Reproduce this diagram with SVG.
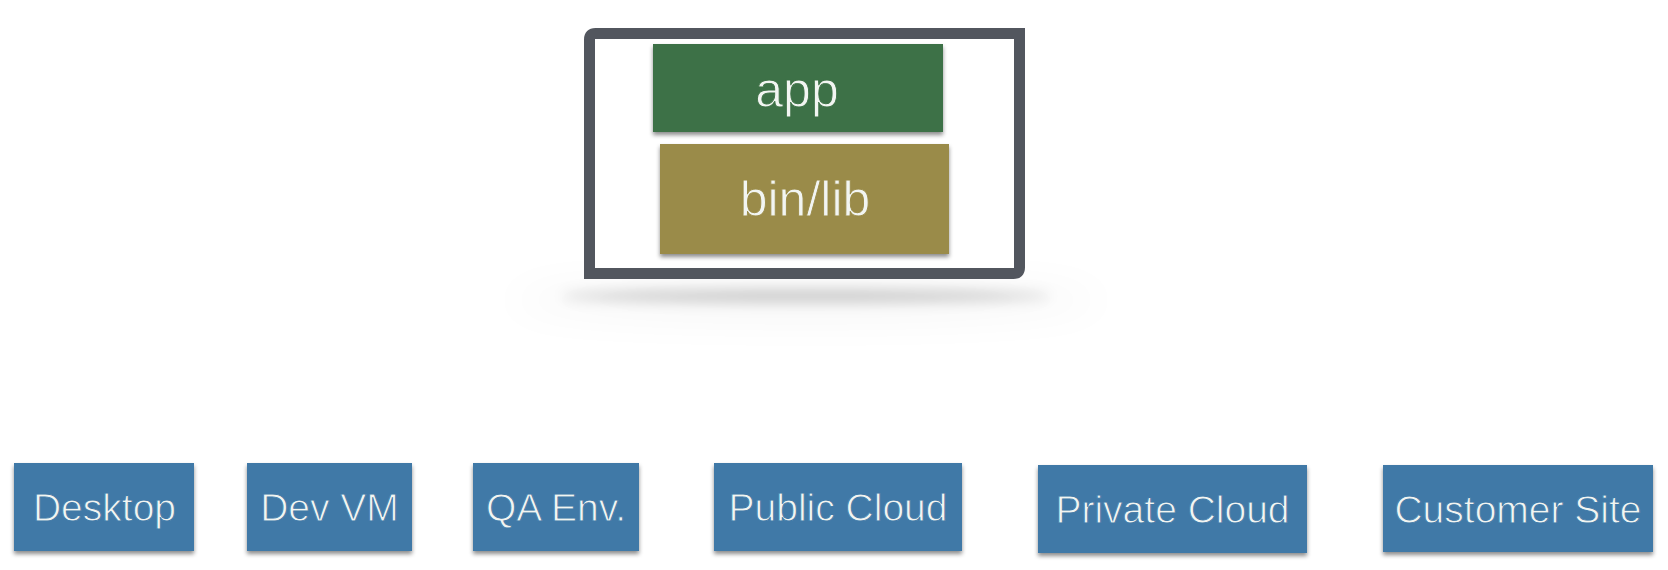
<svg xmlns="http://www.w3.org/2000/svg" width="1668" height="570" viewBox="0 0 1668 570">
  <style>
    .lbl { font-family: "Liberation Sans", Arial, Helvetica, sans-serif; fill: #f2f5f2; text-anchor: middle; stroke-width: 0.9px; }
    .env rect { fill: #4079a7; filter: url(#drop); }
    .env text { font-size: 39px; stroke: #4079a7; }
    .big { font-size: 50px; }
  </style>
  <defs>
    <filter id="drop" x="-10%" y="-10%" width="120%" height="130%">
      <feDropShadow dx="0" dy="3" stdDeviation="2" flood-color="#000" flood-opacity="0.45"/>
    </filter>
    <filter id="soft" x="-20%" y="-200%" width="140%" height="500%">
      <feGaussianBlur stdDeviation="7"/>
    </filter>
    <filter id="halo" x="-30%" y="-300%" width="160%" height="700%">
      <feGaussianBlur stdDeviation="22"/>
    </filter>
  </defs>

  <rect width="1668" height="570" fill="#ffffff"/>

  <g id="container">
    <ellipse cx="806" cy="300" rx="300" ry="18" fill="#000" opacity="0.04" filter="url(#halo)"/>
    <ellipse cx="806" cy="296" rx="245" ry="6" fill="#000" opacity="0.2" filter="url(#soft)"/>
    <path d="M589.5,273.5 V39.5 Q589.5,33.5 595.5,33.5 H1019.5 V267.5 Q1019.5,273.5 1013.5,273.5 Z" fill="#ffffff" stroke="#52565e" stroke-width="11"/>
  </g>

  <g id="app">
    <rect x="653" y="44" width="290" height="88" fill="#3e7146" filter="url(#drop)"/>
    <text class="lbl big" x="797" y="107" stroke="#3e7146">app</text>
  </g>

  <g id="binlib">
    <rect x="660" y="144" width="289" height="110" fill="#9a8b48" filter="url(#drop)"/>
    <text class="lbl big" x="805" y="216" stroke="#9a8b48">bin/lib</text>
  </g>

  <g id="connectors"></g>

  <g id="desktop" class="env">
    <rect x="14" y="463" width="180" height="88"/>
    <text class="lbl" x="104.5" y="521">Desktop</text>
  </g>
  <g id="devvm" class="env">
    <rect x="247" y="463" width="165" height="88"/>
    <text class="lbl" x="329.5" y="521">Dev VM</text>
  </g>
  <g id="qaenv" class="env">
    <rect x="473" y="463" width="166" height="88"/>
    <text class="lbl" x="556" y="521">QA Env.</text>
  </g>
  <g id="publiccloud" class="env">
    <rect x="714" y="463" width="248" height="88"/>
    <text class="lbl" x="838" y="521">Public Cloud</text>
  </g>
  <g id="privatecloud" class="env">
    <rect x="1038" y="465" width="269" height="88"/>
    <text class="lbl" x="1172.5" y="523">Private Cloud</text>
  </g>
  <g id="customersite" class="env">
    <rect x="1383" y="465" width="270" height="87"/>
    <text class="lbl" x="1518" y="523">Customer Site</text>
  </g>
</svg>
